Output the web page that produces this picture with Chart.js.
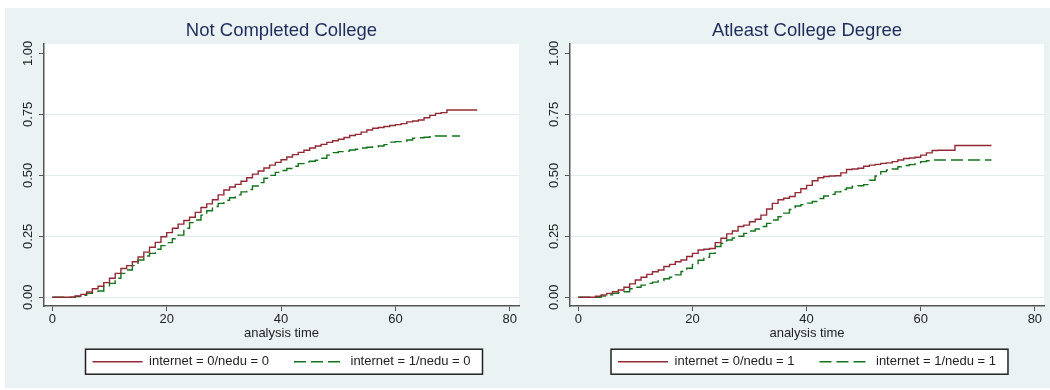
<!DOCTYPE html>
<html>
<head>
<meta charset="utf-8">
<script src="https://cdn.jsdelivr.net/npm/chart.js@4.4.0/dist/chart.umd.min.js"></script>
<style>
  html, body { margin: 0; padding: 0; background: #fff; }
  #graph { position: absolute; left: 5px; top: 8px; width: 1045px; height: 380px; background: #eaf2f3; }
  canvas { position: absolute; top: 0; }
  #leftChart { left: 0; }
  #rightChart { left: 520px; }
</style>
</head>
<body>
<div id="graph">
  <canvas id="leftChart" width="520" height="380"></canvas>
  <canvas id="rightChart" width="525" height="380"></canvas>
</div>
<script>
// axis ticks
const xTicks = [0, 20, 40, 60, 80];
const yTicks = [0, 0.25, 0.5, 0.75, 1];

const panelTitles = ['Not Completed College', 'Atleast College Degree'];
const leftLabels = ['internet = 0/nedu = 0', 'internet = 1/nedu = 0'];
const rightLabels = ['internet = 0/nedu = 1', 'internet = 1/nedu = 1'];

// Not completed college, internet = 0
const ncTime0 = [0, 4, 5, 6, 7, 8, 9, 10, 11, 12, 13, 14, 15, 16, 17, 18, 19, 20, 21, 22, 23, 24, 25, 26, 27, 28, 29, 30,
  31, 32, 33, 34, 35, 36, 37, 38, 39, 40, 41, 42, 43, 44, 45, 46, 47, 48, 49, 50, 51, 52, 53, 54, 55, 56, 57, 58, 59, 60,
  61, 62, 63, 64, 65, 66, 67, 68, 69, 74.3];
const ncFail0 = [0, 0.005, 0.012, 0.022, 0.035, 0.045, 0.06, 0.078, 0.098, 0.118, 0.13, 0.146, 0.165, 0.185, 0.205, 0.225,
  0.248, 0.265, 0.283, 0.30, 0.315, 0.328, 0.348, 0.368, 0.383, 0.40, 0.42, 0.44, 0.452, 0.463, 0.476, 0.49, 0.505, 0.518,
  0.53, 0.542, 0.553, 0.564, 0.575, 0.585, 0.594, 0.603, 0.612, 0.62, 0.627, 0.635, 0.642, 0.648, 0.655, 0.663, 0.668,
  0.677, 0.686, 0.693, 0.696, 0.70, 0.704, 0.708, 0.712, 0.719, 0.723, 0.727, 0.736, 0.746, 0.754, 0.757, 0.768, 0.768];

// Not completed college, internet = 1
const ncTime1 = [0, 4, 5, 6, 7, 8, 9, 10, 11, 12, 13, 14, 15, 16, 17, 18, 19, 20, 21, 22, 23, 24, 25, 26, 27, 28, 29, 30,
  31, 32, 33, 34, 35, 36, 37, 38, 39, 40, 41, 42, 43, 44, 45, 46, 47, 48, 49, 50, 51, 52, 53, 54, 55, 56, 57, 58, 59, 60,
  61, 62, 63, 64, 65, 66, 67, 71.3];
const ncFail1 = [0, 0.003, 0.008, 0.016, 0.021, 0.026, 0.044, 0.057, 0.078, 0.098, 0.112, 0.13, 0.153, 0.169, 0.18, 0.197,
  0.212, 0.224, 0.24, 0.255, 0.283, 0.306, 0.317, 0.337, 0.355, 0.372, 0.385, 0.398, 0.408, 0.42, 0.432, 0.442, 0.456, 0.47,
  0.488, 0.50, 0.512, 0.52, 0.528, 0.537, 0.548, 0.555, 0.558, 0.562, 0.57, 0.583, 0.593, 0.597, 0.60, 0.604, 0.607, 0.612,
  0.615, 0.617, 0.62, 0.626, 0.636, 0.638, 0.641, 0.645, 0.652, 0.654, 0.656, 0.658, 0.661, 0.661];

// At least college degree, internet = 0
const cdTime0 = [0, 3, 4, 5, 6, 7, 8, 9, 10, 11, 12, 13, 14, 15, 16, 17, 18, 19, 20, 21, 22, 23, 24, 25, 26, 27, 28, 29, 30,
  31, 32, 33, 34, 35, 36, 37, 38, 39, 40, 41, 42, 43, 44, 45, 46, 47, 48, 49, 50, 51, 52, 53, 54, 55, 56, 57, 58, 59, 60,
  61, 62, 63, 66, 72.4];
const cdFail0 = [0, 0.004, 0.01, 0.016, 0.023, 0.03, 0.041, 0.055, 0.071, 0.082, 0.094, 0.105, 0.112, 0.126, 0.135, 0.146,
  0.153, 0.167, 0.18, 0.194, 0.197, 0.20, 0.224, 0.242, 0.26, 0.272, 0.29, 0.296, 0.31, 0.32, 0.337, 0.362, 0.385, 0.40,
  0.406, 0.413, 0.429, 0.445, 0.459, 0.478, 0.49, 0.495, 0.497, 0.498, 0.51, 0.524, 0.526, 0.529, 0.537, 0.542, 0.545,
  0.549, 0.551, 0.556, 0.563, 0.569, 0.571, 0.574, 0.583, 0.592, 0.602, 0.603, 0.622, 0.622];

// At least college degree, internet = 1
const cdTime1 = [0, 4, 5, 6, 7, 8, 9, 10, 11, 12, 13, 14, 15, 16, 17, 18, 19, 20, 21, 22, 23, 24, 25, 26, 27, 28, 29, 30,
  31, 32, 33, 34, 35, 36, 37, 38, 39, 40, 41, 42, 43, 44, 45, 46, 47, 48, 49, 50, 51, 52, 53, 54, 55, 56, 57, 58, 59, 60,
  61, 62, 72.4];
const cdFail1 = [0, 0.005, 0.01, 0.016, 0.019, 0.023, 0.035, 0.041, 0.05, 0.057, 0.062, 0.068, 0.076, 0.082, 0.092, 0.106,
  0.119, 0.135, 0.152, 0.164, 0.18, 0.208, 0.221, 0.235, 0.243, 0.25, 0.262, 0.272, 0.28, 0.29, 0.303, 0.317, 0.33, 0.345,
  0.36, 0.374, 0.38, 0.386, 0.393, 0.405, 0.415, 0.422, 0.432, 0.442, 0.448, 0.455, 0.457, 0.462, 0.48, 0.497, 0.515,
  0.522, 0.526, 0.535, 0.54, 0.544, 0.551, 0.556, 0.56, 0.563, 0.563];

const FONT = '"Liberation Sans", Arial, Helvetica, sans-serif';
Chart.defaults.font.family = FONT;
Chart.defaults.color = '#222';

function toPoints(times, vals) {
  const n = Math.min(times.length, vals.length);
  const pts = [];
  for (let i = 0; i < n; i++) pts.push({ x: times[i], y: vals[i] });
  return pts;
}

// white plot region and legend frame, like the Stata scheme
const framePlugin = {
  id: 'frame',
  beforeDraw(chart) {
    const { ctx, chartArea: a } = chart;
    ctx.save();
    ctx.fillStyle = '#fff';
    ctx.fillRect(a.left, a.top, a.right - a.left, a.bottom - a.top);
    const lg = chart.legend;
    if (lg && lg.legendHitBoxes && lg.legendHitBoxes.length) {
      const hb = lg.legendHitBoxes;
      const last = hb[hb.length - 1];
      const x0 = hb[0].left - 7;
      const x1 = last.left + last.width + 12;
      const cy = hb[0].top + hb[0].height / 2;
      ctx.fillRect(x0, cy - 12.5, x1 - x0, 25);
      ctx.strokeStyle = '#222';
      ctx.lineWidth = 1.5;
      ctx.strokeRect(x0, cy - 12.5, x1 - x0, 25);
    }
    ctx.restore();
  }
};

// y tick labels turned 90 degrees
const yLabelPlugin = {
  id: 'yLabels',
  afterDraw(chart) {
    const { ctx, chartArea: a } = chart;
    const sc = chart.scales.y;
    ctx.save();
    ctx.font = '13px ' + FONT;
    ctx.fillStyle = '#222';
    ctx.textAlign = 'center';
    ctx.textBaseline = 'middle';
    sc.ticks.forEach(t => {
      ctx.save();
      ctx.translate(a.left - 16, sc.getPixelForValue(t.value));
      ctx.rotate(-Math.PI / 2);
      ctx.fillText(t.value.toFixed(2), 0, 0);
      ctx.restore();
    });
    ctx.restore();
  }
};

// legend samples take dash and width from the line, not from the points
function legendItems(chart) {
  const items = Chart.defaults.plugins.legend.labels.generateLabels(chart);
  items.forEach(it => {
    const ds = chart.data.datasets[it.datasetIndex];
    it.lineDash = ds.borderDash || [];
    it.lineWidth = ds.borderWidth;
    it.strokeStyle = ds.borderColor;
  });
  return items;
}

function makePanel(canvasId, title, labels, s0, s1, yWidth) {
  return new Chart(document.getElementById(canvasId), {
    type: 'line',
    data: {
      datasets: [{
        label: labels[0],
        data: s0,
        borderColor: '#922a35',
        borderWidth: 1.4,
        pointRadius: 0,
        stepped: true,
        fill: false
      }, {
        label: labels[1],
        data: s1,
        borderColor: '#13731a',
        borderWidth: 1.4,
        borderDash: [12, 5],
        pointRadius: 0,
        stepped: true,
        fill: false
      }]
    },
    options: {
      responsive: false,
      animation: false,
      events: [],
      layout: { padding: { left: 0, right: 6, top: 0, bottom: 9.8 } },
      scales: {
        x: {
          type: 'linear',
          min: -1.45,
          max: 81.6,
          afterBuildTicks: s => { s.ticks = xTicks.map(v => ({ value: v })); },
          afterFit: s => { s.height = 24.2; },
          ticks: { font: { size: 13 }, color: '#222', padding: 1, maxRotation: 0, autoSkip: false },
          grid: { drawOnChartArea: false, tickLength: 5, tickColor: '#555', tickWidth: 1 },
          border: { color: '#555', width: 1.5 },
          title: {
            display: true, text: 'analysis time', color: '#222',
            font: { size: 13 }, padding: { top: 0, bottom: -11.4 }
          }
        },
        y: {
          min: -0.0357,
          max: 1.038,
          afterBuildTicks: s => { s.ticks = yTicks.map(v => ({ value: v })); },
          afterFit: s => { s.width = yWidth; },
          ticks: { display: false },
          grid: {
            color: c => (c.tick && c.tick.value === 1 ? 'rgba(0,0,0,0)' : '#e2ebed'),
            tickLength: 5, tickColor: '#555', tickWidth: 1, lineWidth: 1
          },
          border: { color: '#555', width: 1.5 }
        }
      },
      plugins: {
        title: {
          display: true, text: title, fullSize: false, color: '#1e2c5c',
          font: { size: 18.5, weight: 'normal' }, padding: { top: 11.9, bottom: 2 }
        },
        legend: {
          position: 'bottom',
          fullSize: false,
          labels: {
            usePointStyle: true, pointStyle: 'line', pointStyleWidth: 50,
            boxHeight: 13, padding: 25, color: '#222', font: { size: 13 },
            generateLabels: legendItems
          }
        },
        tooltip: { enabled: false }
      }
    },
    plugins: [framePlugin, yLabelPlugin]
  });
}

makePanel('leftChart', panelTitles[0], leftLabels, toPoints(ncTime0, ncFail0), toPoints(ncTime1, ncFail1), 39);
makePanel('rightChart', panelTitles[1], rightLabels, toPoints(cdTime0, cdFail0), toPoints(cdTime1, cdFail1), 45);
</script>
</body>
</html>
